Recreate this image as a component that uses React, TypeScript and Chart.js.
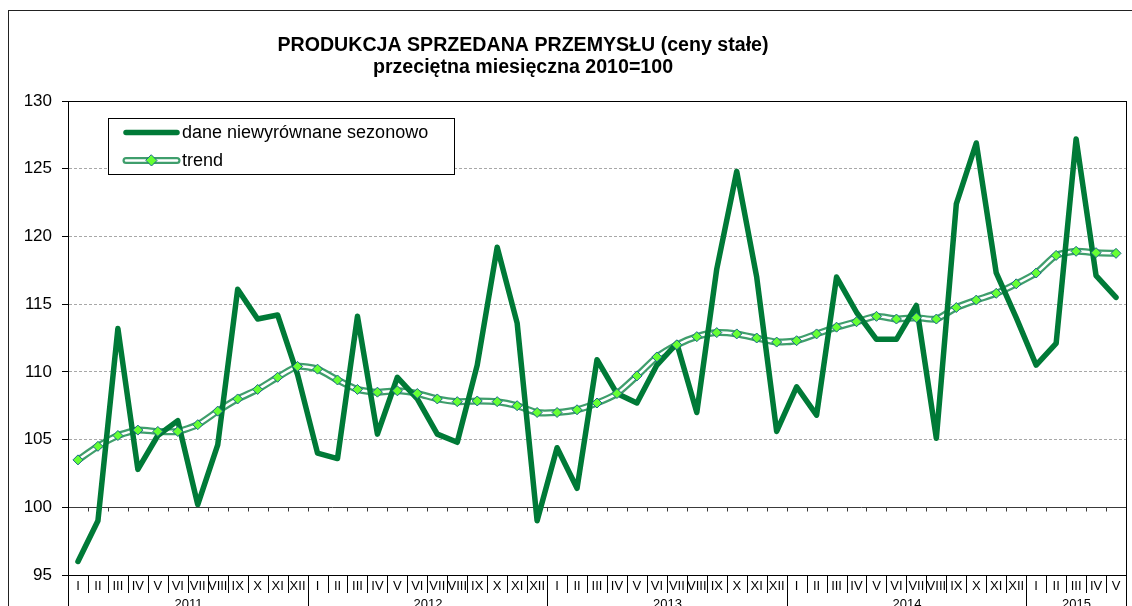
import React, { useEffect, useRef } from "react";
import { Chart, registerables } from "chart.js";

Chart.register(...registerables);

const months = ["I", "II", "III", "IV", "V", "VI", "VII", "VIII", "IX", "X", "XI", "XII"];
const years = ["2011", "2012", "2013", "2014", "2015"];
const monthsPerYear = [12, 12, 12, 12, 5];

const rawSeries = [
  96.0, 99.0, 113.2, 102.8, 105.3, 106.4, 100.2, 104.6, 116.1, 113.9, 114.2, 109.8,
  104.0, 103.6, 114.1, 105.4, 109.6, 108.0, 105.4, 104.8, 110.5, 119.2, 113.6, 99.0,
  104.4, 101.4, 110.9, 108.4, 107.7, 110.5, 112.1, 107.0, 117.6, 124.8, 117.0, 105.6,
  108.9, 106.8, 117.0, 114.4, 112.4, 112.4, 114.9, 105.1, 122.4, 126.9, 117.3, 114.0,
  110.5, 112.1, 127.2, 117.1, 115.5,
];

const trendSeries = [
  103.5, 104.5, 105.3, 105.7, 105.6, 105.6, 106.1, 107.1, 108.0, 108.7, 109.6, 110.4,
  110.2, 109.4, 108.7, 108.5, 108.6, 108.4, 108.0, 107.8, 107.85, 107.8, 107.5, 107.0,
  107.0, 107.2, 107.7, 108.4, 109.7, 111.1, 112.0, 112.6, 112.9, 112.8, 112.5, 112.2,
  112.3, 112.8, 113.3, 113.7, 114.1, 113.9, 114.0, 113.9, 114.75, 115.3, 115.8, 116.5,
  117.3, 118.6, 118.9, 118.8, 118.75,
];

const yTicks = { min: 95, max: 130, step: 5 };
const titleLines = ["PRODUKCJA SPRZEDANA PRZEMYSŁU (ceny stałe)", "przeciętna miesięczna 2010=100"];
const legendLabels = ["dane niewyrównane sezonowo", "trend"];

const FONT = "'Liberation Sans', Arial, Helvetica, sans-serif";
const RAW_COLOR = "#007a37";
const TREND_COLOR = "#3f9e6c";
const MARKER_FILL = "#66ff33";
const MARKER_BORDER = "#17698a";

const categories: string[] = [];
const monthOfCat: string[] = [];
years.forEach((yr, yi) => {
  for (let m = 0; m < monthsPerYear[yi]; m++) {
    categories.push(`${months[m]} ${yr}`);
    monthOfCat.push(months[m]);
  }
});

const customPlugin = {
  id: "custom",
  beforeDraw(chart: any) {
    const ctx = chart.ctx;
    ctx.save();
    ctx.fillStyle = "#fff";
    ctx.fillRect(0, 0, chart.width, chart.height);
    ctx.strokeStyle = "#222";
    ctx.lineWidth = 1;
    ctx.strokeRect(8.5, 10.5, chart.width + 20, chart.height + 20);
    // title
    ctx.fillStyle = "#000";
    ctx.textAlign = "center";
    ctx.textBaseline = "alphabetic";
    ctx.font = `bold 19.6px ${FONT}`;
    ctx.fillText(titleLines[0], 523, 51);
    ctx.fillText(titleLines[1], 523, 73);
    ctx.restore();
  },
  beforeDatasetsDraw(chart: any) {
    const { ctx, chartArea, scales } = chart;
    const { left, right, top, bottom } = chartArea;
    const x = scales.x;
    const y = scales.y;
    const half = (x.getPixelForValue(1) - x.getPixelForValue(0)) / 2;
    ctx.save();
    // x axis crossing at 100
    const y100 = Math.round(y.getPixelForValue(100)) + 0.5;
    ctx.strokeStyle = "#3a3a3a";
    ctx.lineWidth = 1;
    ctx.beginPath();
    ctx.moveTo(left, y100);
    ctx.lineTo(right, y100);
    for (let i = 0; i <= categories.length; i++) {
      const bx = Math.round(x.getPixelForValue(0) - half + i * 2 * half) + 0.5;
      ctx.moveTo(bx, y100);
      ctx.lineTo(bx, y100 + 4);
    }
    ctx.stroke();
    // plot border
    ctx.strokeStyle = "#000";
    ctx.strokeRect(Math.round(left) + 0.5, Math.round(top) + 0.5, Math.round(right - left), Math.round(bottom - top));
    ctx.restore();
  },
  afterDraw(chart: any) {
    const { ctx, chartArea, scales } = chart;
    const { left, bottom } = chartArea;
    const x = scales.x;
    const half = (x.getPixelForValue(1) - x.getPixelForValue(0)) / 2;
    const bAt = (k: number) => Math.round(x.getPixelForValue(0) - half + k * 2 * half) + 0.5;
    ctx.save();
    // separators
    ctx.strokeStyle = "#000";
    ctx.lineWidth = 1;
    ctx.beginPath();
    const yearBounds: number[] = [0];
    monthsPerYear.reduce((acc, n) => {
      yearBounds.push(acc + n);
      return acc + n;
    }, 0);
    for (let k = 0; k <= categories.length; k++) {
      const bx = bAt(k);
      const isYear = yearBounds.includes(k);
      ctx.moveTo(bx, bottom);
      ctx.lineTo(bx, isYear ? chart.height : bottom + 18);
    }
    ctx.stroke();
    // month labels
    ctx.fillStyle = "#000";
    ctx.textAlign = "center";
    ctx.textBaseline = "alphabetic";
    ctx.font = `13px ${FONT}`;
    monthOfCat.forEach((m, i) => {
      ctx.fillText(m, x.getPixelForValue(i), bottom + 14.5);
    });
    // year labels
    years.forEach((yr, yi) => {
      const cx = (bAt(yearBounds[yi]) + bAt(yearBounds[yi + 1])) / 2;
      ctx.fillText(yr, cx, bottom + 33);
    });
    // legend
    const lx = 108.5, ly = 118.5, lw = 346, lh = 56;
    ctx.fillStyle = "#fff";
    ctx.fillRect(lx, ly, lw, lh);
    ctx.strokeStyle = "#000";
    ctx.strokeRect(lx, ly, lw, lh);
    const r1 = 132.5, r2 = 160.5, sx1 = 126, sx2 = 177;
    ctx.lineCap = "round";
    ctx.strokeStyle = RAW_COLOR;
    ctx.lineWidth = 5.5;
    ctx.beginPath();
    ctx.moveTo(sx1, r1);
    ctx.lineTo(sx2, r1);
    ctx.stroke();
    ctx.strokeStyle = TREND_COLOR;
    ctx.lineWidth = 7;
    ctx.beginPath();
    ctx.moveTo(sx1, r2);
    ctx.lineTo(sx2, r2);
    ctx.stroke();
    ctx.strokeStyle = "#fff";
    ctx.lineWidth = 2.5;
    ctx.beginPath();
    ctx.moveTo(sx1, r2);
    ctx.lineTo(sx2, r2);
    ctx.stroke();
    const mx = (sx1 + sx2) / 2, rr = 5.5;
    ctx.beginPath();
    ctx.moveTo(mx, r2 - rr);
    ctx.lineTo(mx + rr, r2);
    ctx.lineTo(mx, r2 + rr);
    ctx.lineTo(mx - rr, r2);
    ctx.closePath();
    ctx.fillStyle = MARKER_FILL;
    ctx.fill();
    ctx.strokeStyle = MARKER_BORDER;
    ctx.lineWidth = 1;
    ctx.stroke();
    ctx.fillStyle = "#000";
    ctx.textAlign = "left";
    ctx.textBaseline = "middle";
    ctx.font = `18px ${FONT}`;
    ctx.fillText(legendLabels[0], 182, r1 + 1);
    ctx.fillText(legendLabels[1], 182, r2 + 1);
    ctx.restore();
  },
};

export default function App() {
  const ref = useRef<HTMLCanvasElement>(null);
  useEffect(() => {
    if (!ref.current) return;
    const chart = new Chart(ref.current, {
      type: "line",
      data: {
        labels: categories,
        datasets: [
          {
            label: "trend-outer",
            data: trendSeries,
            borderColor: TREND_COLOR,
            borderWidth: 7,
            pointRadius: 0,
            tension: 0.2,
            fill: false,
            order: 4,
          },
          {
            label: "trend-inner",
            data: trendSeries,
            borderColor: "#ffffff",
            borderWidth: 2.5,
            pointRadius: 0,
            tension: 0.2,
            fill: false,
            order: 3,
          },
          {
            label: legendLabels[0],
            data: rawSeries,
            borderColor: RAW_COLOR,
            borderWidth: 5.5,
            borderCapStyle: "round",
            borderJoinStyle: "round",
            pointRadius: 0,
            tension: 0,
            fill: false,
            order: 2,
          },
          {
            label: legendLabels[1],
            data: trendSeries,
            showLine: false,
            pointStyle: "rectRot",
            pointRadius: 5,
            pointBackgroundColor: MARKER_FILL,
            pointBorderColor: MARKER_BORDER,
            pointBorderWidth: 1,
            order: 1,
          },
        ] as any,
      },
      options: {
        responsive: false,
        animation: false,
        devicePixelRatio: 1,
        layout: { padding: { left: 0, top: 101, right: 4, bottom: 31 } },
        plugins: {
          legend: { display: false },
          title: { display: false },
          tooltip: { enabled: false },
        },
        scales: {
          x: { type: "category", display: false, offset: true },
          y: {
            min: yTicks.min,
            max: yTicks.max,
            afterFit: (s: any) => {
              s.width = 68;
            },
            ticks: {
              stepSize: yTicks.step,
              color: "#000",
              padding: 10,
              font: { family: FONT, size: 17 },
            },
            grid: {
              color: (c: any) => {
                const v = c.tick ? c.tick.value : null;
                return v === 95 || v === 100 || v === 130 ? "rgba(0,0,0,0)" : "#a8a8a8";
              },
              tickColor: "#000",
              tickLength: 6,
              tickBorderDash: [],
              lineWidth: 1,
            },
            border: { display: true, color: "#000", dash: [3, 2] },
          },
        },
      } as any,
      plugins: [customPlugin],
    });
    return () => chart.destroy();
  }, []);
  return (
    <div style={{ position: "fixed", left: 0, top: 0, width: 1132, height: 606, background: "#fff" }}>
      <canvas ref={ref} width={1132} height={606} style={{ display: "block", width: 1132, height: 606 }} />
    </div>
  );
}
